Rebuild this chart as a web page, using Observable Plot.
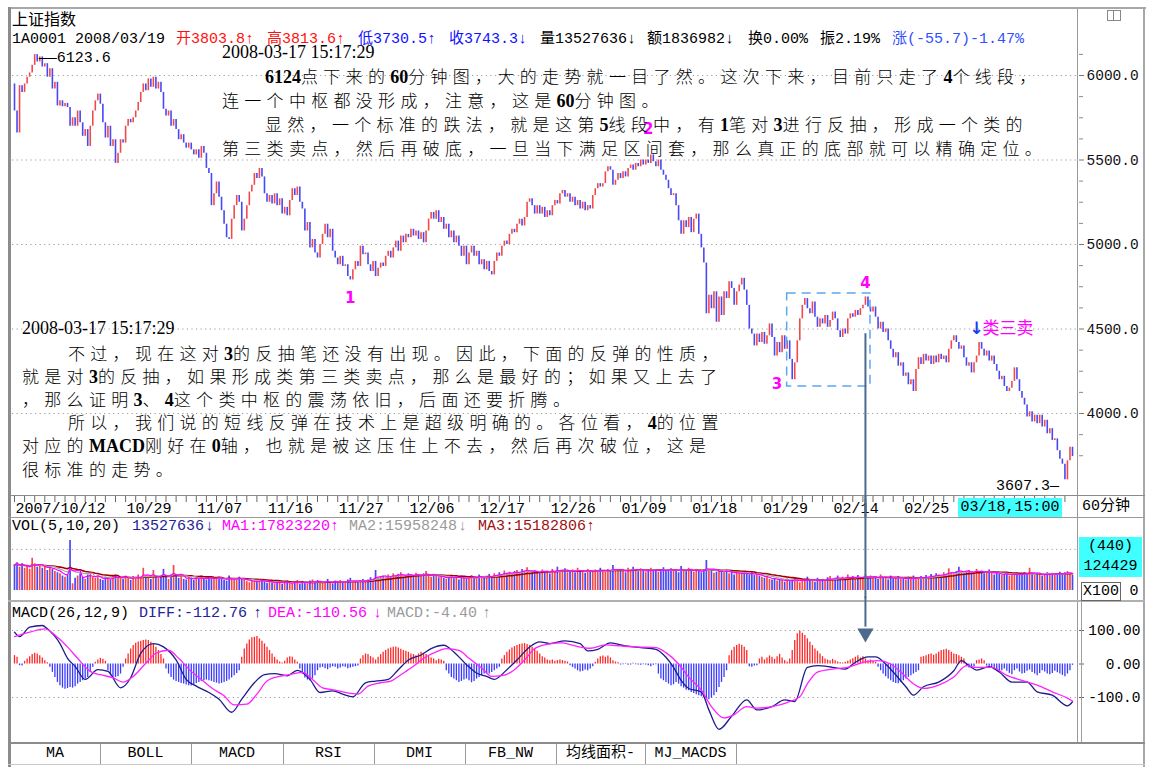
<!DOCTYPE html>
<html><head><meta charset="utf-8">
<script src="https://cdn.jsdelivr.net/npm/d3@7"></script>
<script src="https://cdn.jsdelivr.net/npm/@observablehq/plot@0.6"></script>
<style>
html,body{margin:0;padding:0;background:#fff;}
#root{position:relative;width:1150px;height:776px;overflow:hidden;background:#fff;}
.abs{position:absolute;white-space:nowrap;}
.mono{font-family:"Liberation Mono","Noto Sans CJK SC",monospace;font-size:15px;line-height:18px;}
.note{font-size:17px;line-height:22px;color:#000;}
.note .c{font-family:"Noto Sans CJK SC",sans-serif;letter-spacing:5.3px;font-weight:300;}
.note .a{font-family:"Liberation Serif",serif;font-weight:bold;font-size:18px;}
.note.date{font-family:"Liberation Serif",serif;font-size:18px;}
.ln{position:absolute;}
.plotwrap{position:absolute;left:0;}
</style></head>
<body><div id="root"></div>
<script>
// ---------------- data ----------------
const open0 = 5950;
const closes = [
5790,5660,5940,5900,5950,5990,6015,6060,6123.6,6080,
6110,6050,6070,5990,6040,5920,5960,5820,5850,5815,
5835,5810,5700,5750,5700,5790,5720,5640,5680,5580,
5700,5790,5850,5890,5830,5720,5630,5700,5580,5620,
5480,5540,5620,5600,5700,5740,5720,5750,5790,5840,
5900,5950,5910,5980,5930,5990,5920,5960,5900,5800,
5760,5790,5700,5740,5680,5620,5650,5600,5570,5600,
5560,5530,5560,5510,5580,5540,5450,5420,5230,5300,
5370,5280,5200,5120,5040,5030,5150,5230,5290,5250,
5080,5150,5230,5310,5350,5420,5390,5450,5400,5300,
5250,5290,5240,5300,5230,5270,5180,5220,5170,5260,
5330,5290,5340,5250,5210,5080,5130,4980,5030,4950,
4920,5000,5060,5120,5040,5090,4960,4920,4880,4930,
4870,4880,4810,4790,4850,4900,4870,4990,4940,4950,
4880,4840,4900,4810,4860,4890,4870,4930,4960,4920,
4980,5020,4960,5050,5010,5060,5040,5090,5050,5080,
5030,5070,5010,5080,5150,5190,5150,5200,5130,5160,
5090,5120,5040,5080,5010,5050,4990,4930,4990,4880,
4950,4990,4930,4960,4880,4910,4850,4900,4840,4820,
4900,4950,4930,4990,5020,5000,5060,5090,5070,5120,
5150,5110,5160,5250,5270,5230,5180,5230,5180,5220,
5160,5200,5170,5230,5260,5240,5300,5320,5280,5300,
5250,5280,5230,5260,5210,5250,5200,5230,5210,5290,
5330,5360,5340,5360,5430,5460,5440,5350,5380,5420,
5390,5430,5400,5450,5470,5440,5480,5460,5500,5470,
5500,5480,5530,5490,5460,5500,5440,5410,5380,5330,
5290,5300,5230,5140,5060,5140,5100,5160,5070,5150,
5180,5060,4980,4890,4590,4700,4620,4720,4540,4690,
4580,4720,4680,4780,4740,4640,4720,4760,4800,4730,
4640,4500,4470,4400,4470,4420,4480,4410,4460,4530,
4450,4340,4420,4360,4460,4380,4430,4320,4200,4300,
4430,4560,4640,4680,4620,4590,4660,4570,4510,4560,
4530,4580,4510,4550,4600,4560,4490,4450,4500,4470,
4560,4590,4570,4610,4580,4620,4640,4690,4630,4600,
4630,4570,4500,4540,4480,4500,4430,4380,4330,4360,
4280,4300,4220,4240,4170,4200,4130,4260,4330,4290,
4350,4310,4340,4290,4340,4300,4350,4320,4340,4300,
4380,4430,4460,4420,4380,4400,4330,4280,4300,4240,
4300,4340,4420,4380,4340,4370,4310,4340,4290,4250,
4200,4220,4160,4130,4150,4190,4270,4200,4130,4090,
4050,3980,4010,3950,3990,3940,3990,3920,3960,3880,
3910,3840,3850,3780,3730,3700,3607.3,3720,3800,3745];

const volumes = [
230,250,210,240,200,220,190,290,240,210,
230,200,215,180,220,190,170,160,150,130,
120,140,450,60,110,130,150,120,100,140,
160,120,110,130,100,90,120,110,95,130,
140,110,120,100,130,115,90,125,105,140,
120,200,130,110,100,180,120,110,130,190,
120,100,140,225,130,110,120,100,95,130,
110,90,120,105,130,100,95,115,125,105,
100,120,110,90,85,130,110,100,95,120,
105,90,80,70,95,85,75,90,100,80,
65,80,70,60,90,75,55,70,85,65,
60,75,90,55,80,70,60,85,95,75,
90,70,65,80,100,75,60,85,70,90,
80,65,95,110,70,85,75,90,100,80,
95,115,100,180,110,120,130,115,140,125,
150,130,145,160,120,135,150,140,125,155,
140,130,150,170,135,120,145,130,115,125,
110,100,125,140,105,120,95,130,110,100,
120,135,105,115,140,125,110,130,145,120,
150,135,160,140,175,155,165,145,170,180,
160,190,175,205,150,165,180,155,170,185,
160,175,150,190,165,210,180,170,195,160,
175,185,160,200,170,180,155,190,175,165,
185,170,200,180,165,190,175,225,185,170,
190,175,160,200,185,210,180,170,195,175,
160,185,200,175,190,165,180,205,170,185,
195,175,190,160,215,185,170,200,180,165,
190,175,160,185,270,170,180,155,165,190,
175,160,185,150,170,140,165,155,145,160,
150,140,165,135,145,130,120,110,125,100,
95,110,85,100,90,75,105,80,95,115,
85,70,100,90,120,80,95,75,110,85,
100,90,115,125,95,110,130,100,120,105,
140,115,125,100,135,110,120,145,105,130,
115,125,100,140,110,120,95,130,105,115,
125,100,110,95,120,105,130,100,115,125,
110,135,120,145,125,150,140,130,160,145,
195,160,150,170,210,175,150,165,180,155,
170,190,160,175,150,165,185,155,140,160,
150,135,145,160,130,150,140,155,135,145,
160,140,200,150,135,155,145,130,150,160,
140,155,135,150,165,145,160,170,150,135];

const macdHist = [
25,20,-5,-6,8,15,22,28,32,30,
25,18,10,4,-10,-25,-40,-55,-65,-72,
-75,-73,-70,-72,-68,-60,-55,-50,-45,-40,
-25,-10,5,12,17,14,8,-20,-35,-42,
-40,-38,-30,-10,15,30,45,55,62,66,
68,70,72,70,65,58,50,40,28,15,
-15,-30,-40,-48,-52,-55,-58,-60,-63,-65,
-66,-62,-58,-55,-52,-50,-48,-50,-52,-55,
-57,-60,-58,-55,-52,-48,-42,-35,-28,-20,
20,45,60,72,78,80,82,75,68,60,
50,40,30,20,12,6,3,8,18,22,
20,12,5,-15,-30,-42,-48,-51,-45,-35,
-20,-12,-10,-14,-17,-12,-8,-10,-15,-12,
-8,-10,-14,-12,-10,-8,-6,15,25,30,
28,22,18,12,20,28,35,40,45,48,
50,51,48,44,40,38,35,30,28,25,
30,35,32,28,22,18,15,10,14,12,
8,-20,-30,-40,-45,-50,-55,-52,-48,-45,
-50,-56,-52,-45,-40,-35,-30,-28,-30,-25,
-20,-15,-10,15,25,35,42,48,52,55,
58,60,61,58,55,50,45,38,30,22,
18,12,10,12,8,10,12,10,8,6,
-5,-10,-15,-20,-24,-22,-18,-20,-15,-8,
5,15,22,24,20,24,18,10,6,4,
-3,-2,2,-4,-3,2,-2,-3,-4,-2,
-3,-5,-8,-4,-2,-30,-45,-50,-55,-60,
-65,-62,-55,-60,-68,-72,-78,-80,-85,-88,
-92,-95,-98,-100,-105,-107,-102,-95,-85,-70,
-55,-40,-20,25,40,50,55,59,56,50,
40,-8,-10,-6,-5,15,20,12,18,24,
20,14,22,29,18,10,6,15,40,70,
90,98,92,85,75,65,55,45,38,30,
22,15,12,10,14,10,6,4,3,5,
8,12,16,20,25,18,22,15,10,12,
8,5,-10,-20,-30,-38,-45,-50,-55,-58,
-59,-55,-50,-45,-40,-35,-30,-25,-20,20,
22,25,28,30,26,30,35,40,42,44,
40,35,30,28,25,20,15,-8,-12,-10,
-8,10,12,15,10,-6,-10,-12,-18,-22,
-25,-20,-15,-22,-28,-32,-20,-15,-24,-30,
-28,-22,-18,-25,-30,-35,-28,-20,-24,-30,
-32,-28,-22,-26,-30,-34,-38,-30,-20,-4];

const diffBar = [0,2,6,11,13,18,21,24,28,33,37,42,46,50,55,59,64,68,72,77,81,86,90,95,99,103,108,112,117,121,126,130,134,139,143,148,152,156,161,165,170,174,179,183,187,190,195,199,204,208,212,218,224,227,231,236,242,248,254,258,261,264,267,272,275,279,284,290,294,300,305,309,314,318,324,329,333,338,341,345,348,353,356,360,366,372,375,378,381,386,390,395,401,405,411,417,419];
const diffVal = [95,82,110,115,105,61,17,-7,-46,-17,-22,-71,-41,32,61,51,12,-46,-66,-85,-105,-144,-105,-56,-32,-29,-35,-19,-46,-85,-80,-90,-98,-56,-51,-46,-17,12,27,46,56,36,-2,-27,-37,-46,-17,12,51,66,61,69,61,39,44,63,54,49,44,20,-10,-49,-73,-83,-137,-195,-156,-107,-137,-127,-107,-112,-10,-5,-10,-15,5,21,21,0,-24,-68,-93,-68,-54,-20,10,-5,-18,-8,-24,-54,-54,-83,-93,-125,-112.76];
const deaBar = [0,6,12,17,21,25,30,34,39,43,47,52,56,61,65,70,74,78,83,87,92,96,100,105,109,114,118,122,127,131,136,140,145,149,153,158,162,167,171,176,180,185,189,193,198,202,206,211,217,222,228,234,240,246,254,258,263,267,272,276,281,285,290,294,300,306,311,314,318,324,330,336,342,347,351,356,360,366,372,377,381,387,393,399,405,411,417,419];
const deaVal = [82,95,105,80,51,17,-22,-32,-41,-54,-37,2,32,41,17,-22,-46,-71,-95,-122,-120,-90,-51,-37,-32,-25,-46,-71,-78,-85,-90,-66,-56,-51,-32,-7,17,36,46,41,17,-12,-37,-35,-17,12,46,59,63,54,47,57,54,51,49,34,0,-39,-78,-127,-161,-151,-127,-132,-127,-115,-98,-59,-24,-15,-10,5,10,0,-24,-59,-73,-63,-39,-5,-10,-10,-34,-49,-63,-83,-102,-110.56];

const priceTicks = [4000, 4500, 5000, 5500, 6000];
const priceMinorTicks = [3750, 3875, 4125, 4250, 4375, 4625, 4750, 4875, 5125, 5250, 5375, 5625, 5750, 5875, 6125];
const macdTicks = [100, 0, -100];
const dateLabels = ["2007/10/12","10/29","11/07","11/16","11/27","12/06","12/17","12/26","01/09","01/18","01/29","02/14","02/25"];
const dateBar = [0,44,72,100,128,156,184,212,240,268,296,324,352];
const waveLabels = [{t:"1", bar:133, p:4685}, {t:"2", bar:251, p:5680}, {t:"3", bar:302, p:4175}, {t:"4", bar:337, p:4770}];
const zhongshuBox = [{b1:306, b2:339, p1:4160, p2:4710}];
const sellPoint = [{bar:381, p:4505}];
const markBar = 337;      // bar marked by the long arrow
const markFrom = 4472;    // price where that arrow starts
const peak = {bar:8, p:6123.6};
const trough = {bar:416, p:3607.3};

// ---------------- derived tables ----------------
const bars = closes.map((c, i) => {
  const o = i === 0 ? open0 : closes[i - 1];
  return {i, o, c, up: c >= o, v: volumes[i], h: macdHist[i]};
});
const diffPts = diffBar.map((b, k) => ({b, v: diffVal[k]}));
const deaPts = deaBar.map((b, k) => ({b, v: deaVal[k]}));
const dayTicks = bars.filter(d => d.i % 4 === 0).map(d => d.i);

const RED = "#f24a4a", BLUE = "#4848f4", ARROW = "#4d6a8e";
const MONO = "Liberation Mono";
const X = {domain: [0, 419], range: [14, 1072], axis: null};
const root = document.getElementById("root");

function place(svg, top) {
  const w = document.createElement("div");
  w.className = "plotwrap";
  w.style.top = top + "px";
  w.appendChild(svg);
  root.appendChild(w);
}
function ln(x, y, w, h, c) {
  const d = document.createElement("div");
  d.className = "ln";
  Object.assign(d.style, {left: x + "px", top: y + "px", width: w + "px", height: h + "px", background: c});
  root.appendChild(d);
  return d;
}
function txt(x, yc, s, color, cls, extra) {
  const d = document.createElement("div");
  d.className = "abs " + (cls || "mono");
  d.style.left = x + "px";
  d.style.top = (yc - 9) + "px";
  d.style.color = color || "#000";
  d.textContent = s;
  if (extra) Object.assign(d.style, extra);
  root.appendChild(d);
  return d;
}

// ---------------- frame chrome ----------------
ln(8, 7, 1138, 2, "#a8a8a8");
ln(8, 7, 3, 760, "#8c8c8c");
ln(1143, 7, 2, 760, "#a8a8a8");
ln(1077, 9, 1, 733, "#9a9a9a");
ln(8, 495, 1137, 1, "#8a8a8a");
ln(8, 517, 1137, 1, "#9a9a9a");
ln(8, 600, 1137, 2, "#b0b0b0");
ln(8, 742, 1137, 2, "#8c8c8c");
ln(8, 764, 1137, 1, "#c8c8c8");
const ic = ln(1107, 10, 12, 9, "#fff"); ic.style.border = "1px solid #888";
ln(1113, 10, 1, 10, "#888");

// ---------------- header text ----------------
txt(12, 18, "上证指数", "#000", "mono", {fontFamily: "Noto Sans CJK SC", fontSize: "16px"});
const head = [
  [12, "1A0001 2008/03/19", "#000"], [176, "开3803.8↑", "#ff1010"], [267, "高3813.6↑", "#ff1010"],
  [358, "低3730.5↑", "#1010ff"], [449, "收3743.3↓", "#1010ff"], [540, "量13527636↓", "#000"],
  [647, "额1836982↓", "#000"], [748, "换0.00%", "#000"], [820, "振2.19%", "#000"], [892, "涨(-55.7)-1.47%", "#3050ff"]];
head.forEach(([x, s, c]) => txt(x, 40, s, c));

// ---------------- price panel ----------------
const PT = 45;
place(Plot.plot({
  width: 1150, height: 450, marginLeft: 12, marginRight: 72, marginTop: 0, marginBottom: 0,
  x: X, y: {domain: [4000, 6000], range: [413 - PT, 75 - PT]},
  style: {background: "transparent", overflow: "visible", fontFamily: MONO, fontSize: "14.5px"},
  marks: [
    Plot.ruleY(priceTicks, {stroke: "#9c9c9c", strokeDasharray: "1.2,3.4"}),
    Plot.axisY(priceMinorTicks, {anchor: "right", tickSize: 4, tickFormat: () => "", stroke: "#888", label: null}),
    Plot.axisY(priceTicks, {anchor: "right", tickSize: 5, tickPadding: 3, tickFormat: d => d.toFixed(1), stroke: "#777", fill: "#111", fontSize: 14.5, fontFamily: MONO, label: null}),
    Plot.ruleX(bars, {x: "i", y1: "o", y2: "c", stroke: d => d.up ? RED : BLUE, strokeWidth: 1.6}),
    Plot.rect(zhongshuBox, {x1: "b1", x2: "b2", y1: "p1", y2: "p2", fill: "none", stroke: "#5aa8f0", strokeWidth: 1.5, strokeDasharray: "9,6"}),
    Plot.ruleX([markBar], {x: d => d, y1: markFrom, y2: 3500, stroke: ARROW, strokeWidth: 2}),
    Plot.text(waveLabels, {x: "bar", y: "p", text: "t", fill: "#ff00ff", fontSize: 15, fontWeight: "bold", fontFamily: "DejaVu Sans"}),
    Plot.text(sellPoint, {x: "bar", y: "p", text: () => "↓", fill: "#1a3cf0", fontSize: 17, fontWeight: "bold", fontFamily: "DejaVu Sans"}),
    Plot.text(sellPoint, {x: "bar", y: "p", text: () => "类三卖", dx: 6, textAnchor: "start", fill: "#ff00ff", fontSize: 17, fontFamily: "Noto Sans CJK SC"}),
    Plot.text([peak], {x: "bar", y: "p", text: d => "——" + d.p.toFixed(1), dx: 4, dy: 3, textAnchor: "start", fill: "#000", fontSize: 15, fontFamily: MONO}),
    Plot.text([trough], {x: "bar", y: "p", text: d => d.p.toFixed(1) + "—", dx: -6, dy: 5, textAnchor: "end", fill: "#000", fontSize: 15, fontFamily: MONO})
  ]
}), PT);

// ---------------- date row ----------------
place(Plot.plot({
  width: 1150, height: 21, marginLeft: 12, marginRight: 72, marginTop: 0, marginBottom: 0,
  x: X,
  style: {background: "transparent", overflow: "visible", fontFamily: MONO},
  marks: [
    Plot.tickX(dayTicks, {x: d => d, insetBottom: 15, stroke: "#666"}),
    Plot.tickX([markBar], {x: d => d, stroke: ARROW, strokeWidth: 2}),
    Plot.text(dateLabels, {x: dateBar, text: d => d, textAnchor: "start", dx: 1, dy: 1, fontSize: 15, fontFamily: MONO, fill: "#000"})
  ]
}), 496);
txt(958, 507, "03/18,15:00", "#000", "mono", {background: "#40ffff", width: "104px", height: "19px", lineHeight: "19px", textAlign: "center", top: "498px"});
txt(1082, 507, "60分钟", "#000");

// ---------------- volume panel ----------------
const volHead = [[12, "VOL(5,10,20)", "#000"], [132, "13527636", "#23239a"], [205, "↓", "#23239a"], [222, "MA1:17823220", "#ff00ff"], [330, "↑", "#ff00ff"], [349, "MA2:15958248", "#9a9a9a"], [458, "↓", "#9a9a9a"], [478, "MA3:15182806", "#a01010"], [586, "↑", "#a01010"]];
volHead.forEach(([x, s, c]) => txt(x, 527, s, c));
place(Plot.plot({
  width: 1150, height: 80, marginLeft: 12, marginRight: 72, marginTop: 0, marginBottom: 0,
  x: X, y: {domain: [0, 630], range: [72, 2]},
  style: {background: "transparent", overflow: "visible", fontFamily: MONO},
  marks: [
    Plot.ruleY([370], {stroke: "#9c9c9c", strokeDasharray: "1.2,3.4"}),
    Plot.ruleX(bars, {x: "i", y1: 0, y2: "v", stroke: d => d.up ? RED : BLUE, strokeWidth: 1.7}),
    Plot.lineY(bars, Plot.windowY({k: 20, anchor: "end"}, {x: "i", y: "v", stroke: "#a00000", strokeWidth: 1.6})),
    Plot.lineY(bars, Plot.windowY({k: 10, anchor: "end"}, {x: "i", y: "v", stroke: "#a8a8a8", strokeWidth: 1.2})),
    Plot.lineY(bars, Plot.windowY({k: 5, anchor: "end"}, {x: "i", y: "v", stroke: "#ff00ff", strokeWidth: 1.2})),
    Plot.tickX([markBar], {x: d => d, stroke: ARROW, strokeWidth: 2, insetTop: -20}),
    Plot.axisY([0], {anchor: "right", tickSize: 0, tickPadding: 60, textAnchor: "end", fontSize: 15, fontFamily: MONO, fill: "#000", label: null})
  ]
}), 518);
txt(1079, 557, "", "#000", "mono", {background: "#40ffff", width: "63px", height: "40px", top: "537px"});
txt(1079, 547, "(440)", "#000", "mono", {width: "63px", textAlign: "center"});
txt(1079, 567, "124429", "#000", "mono", {width: "63px", textAlign: "center"});
txt(1081, 591, "X100", "#000", "mono", {border: "1px solid #666", height: "17px", lineHeight: "17px", padding: "0 1px", top: "582px"});

// ---------------- MACD panel ----------------
const macdHead = [[12, "MACD(26,12,9)", "#000"], [139, "DIFF:-112.76", "#23239a"], [253, "↑", "#23239a"], [268, "DEA:-110.56", "#ff00ff"], [373, "↓", "#ff00ff"], [387, "MACD:-4.40", "#9a9a9a"], [482, "↑", "#9a9a9a"]];
macdHead.forEach(([x, s, c]) => txt(x, 614, s, c));
const MT = 602;
place(Plot.plot({
  width: 1150, height: 140, marginLeft: 12, marginRight: 72, marginTop: 0, marginBottom: 0,
  x: X, y: {domain: [-100, 100], range: [697 - MT, 630 - MT]},
  style: {background: "transparent", overflow: "visible", fontFamily: MONO},
  marks: [
    Plot.ruleY([100, -100], {stroke: "#9c9c9c", strokeDasharray: "1.2,3.4"}),
    Plot.ruleX(bars, {x: "i", y1: 0, y2: "h", stroke: d => d.h >= 0 ? "#ff2626" : "#3a3aff", strokeWidth: 1.3}),
    Plot.line(diffPts, {x: "b", y: "v", stroke: "#1c1c8c", strokeWidth: 1.3, curve: "monotone-x"}),
    Plot.line(deaPts, {x: "b", y: "v", stroke: "#ff22ff", strokeWidth: 1.3, curve: "monotone-x"}),
    Plot.ruleX([markBar], {x: d => d, y1: 200, y2: 110, stroke: ARROW, strokeWidth: 2}),
    Plot.dot([markBar], {x: d => d, y: 92, symbol: "triangle", rotate: 180, r: 6, fill: ARROW, stroke: "none"}),
    Plot.axisY(macdTicks, {anchor: "right", tickSize: 5, tickPadding: 57, textAnchor: "end", tickFormat: d => d === 0 ? "0.00" : d > 0 ? d.toFixed(2) : d.toFixed(1), stroke: "#666", fill: "#000", fontSize: 14.5, fontFamily: MONO, label: null})
  ]
}), MT);
ln(1081, 602, 1, 140, "#a0a0a0");

// ---------------- tabs ----------------
const tabs = [["MA", 10, 100], ["BOLL", 100, 191], ["MACD", 191, 283], ["RSI", 283, 374], ["DMI", 374, 465], ["FB_NW", 465, 556], ["均线面积-", 556, 645], ["MJ_MACDS", 645, 736]];
tabs.forEach(([s, a, b]) => {
  txt(a, 754, s, "#000", "mono", {width: (b - a) + "px", textAlign: "center"});
  ln(b, 744, 1, 20, "#9a9a9a");
});

// ---------------- annotation text ----------------
const notes = [
  {x: 222, y: 52, t: "2008-03-17 15:17:29", date: true},
  {x: 265, y: 76, t: "6124点下来的60分钟图，大的走势就一目了然。这次下来，目前只走了4个线段，"},
  {x: 222, y: 100, t: "连一个中枢都没形成，注意，这是60分钟图。"},
  {x: 265, y: 124, t: "显然，一个标准的跌法，就是这第5线段中，有1笔对3进行反抽，形成一个类的"},
  {x: 222, y: 148, t: "第三类卖点，然后再破底，一旦当下满足区间套，那么真正的底部就可以精确定位。"},
  {x: 22, y: 328, t: "2008-03-17 15:17:29", date: true},
  {x: 68, y: 353, t: "不过，现在这对3的反抽笔还没有出现。因此，下面的反弹的性质，"},
  {x: 22, y: 376, t: "就是对3的反抽，如果形成类第三类卖点，那么是最好的；如果又上去了"},
  {x: 22, y: 399, t: "，那么证明3、4这个类中枢的震荡依旧，后面还要折腾。"},
  {x: 68, y: 422, t: "所以，我们说的短线反弹在技术上是超级明确的。各位看，4的位置"},
  {x: 22, y: 445, t: "对应的MACD刚好在0轴，也就是被这压住上不去，然后再次破位，这是"},
  {x: 22, y: 469, t: "很标准的走势。"}
];
notes.forEach(L => {
  const d = document.createElement("div");
  d.className = "abs note" + (L.date ? " date" : "");
  d.style.left = L.x + "px";
  d.style.top = (L.y - 11) + "px";
  if (L.date) d.textContent = L.t;
  else L.t.split(/([\x20-\x7E]+)/).forEach(s => {
    if (!s) return;
    const sp = document.createElement("span");
    sp.className = /^[\x20-\x7E]+$/.test(s) ? "a" : "c";
    sp.textContent = s;
    d.appendChild(sp);
  });
  root.appendChild(d);
});
</script></body></html>
